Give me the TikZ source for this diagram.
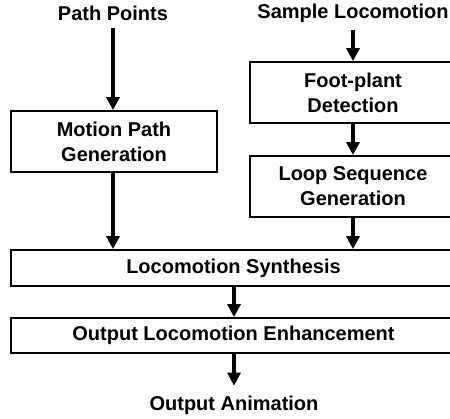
\documentclass[tikz,border=0pt]{standalone}
\usepackage{fontspec}
\setmainfont{Liberation Sans}
\usetikzlibrary{arrows.meta}
\begin{document}
\begin{tikzpicture}[x=1pt,y=-1pt,
  every node/.style={font=\fontsize{20}{25}\selectfont\bfseries},
  lbl/.style={inner sep=0pt, outer sep=8pt},
  box/.style={draw, line width=1.8pt, inner sep=0pt, align=center},
  tallbox/.style={box, minimum width=206pt, minimum height=61pt},
  widebox/.style={box, minimum width=445pt, minimum height=35pt},
  flow/.style={line width=4pt, -{Triangle[length=13pt,width=13pt]}}]
\useasboundingbox (0,0) rectangle (450,419);
\node[lbl] (pp) at (113,13) {Path Points};
\node[lbl] (sl) at (353,13) {Sample Locomotion};
\node[tallbox] (mp) at (114,141.5) {Motion Path\\Generation};
\node[tallbox] (fp) at (353,92.5) {Foot-plant\\Detection};
\node[tallbox] (ls) at (353,186.5) {Loop Sequence\\Generation};
\node[widebox, minimum height=36pt] (syn) at (233.5,268) {Locomotion Synthesis};
\node[widebox] (enh) at (233.5,335.5) {Output Locomotion Enhancement};
\node[lbl, outer sep=10pt] (oa) at (234,405) {Output Animation};
\draw[flow] (pp.south) -- (pp.south |- mp.north);
\draw[flow] (sl.south) -- (fp.north);
\draw[flow] (fp.south) -- (ls.north);
\draw[flow] (mp.south -| pp.south) -- (pp.south |- syn.north);
\draw[flow] (ls.south) -- (ls.south |- syn.north);
\draw[flow] (oa.north |- syn.south) -- (oa.north |- enh.north);
\draw[flow] (oa.north |- enh.south) -- (oa.north);
\end{tikzpicture}
\end{document}
